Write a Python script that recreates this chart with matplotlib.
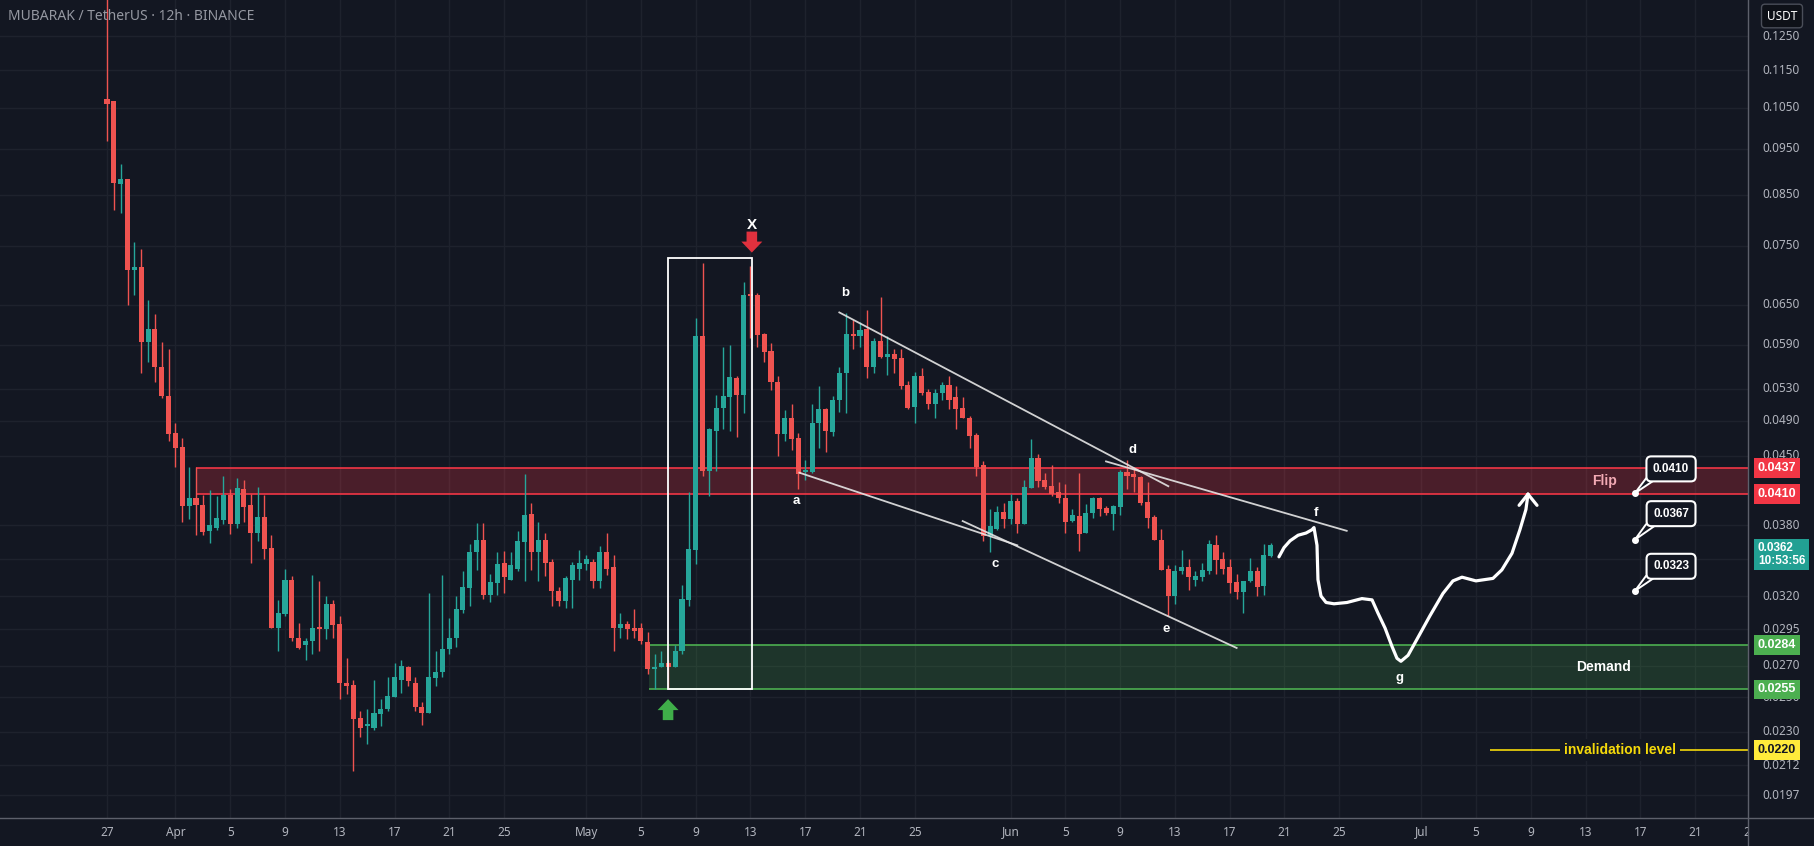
import matplotlib
matplotlib.use("Agg")
import matplotlib.pyplot as plt
import matplotlib.transforms as mtransforms
from matplotlib.patches import Rectangle, Polygon
from matplotlib.lines import Line2D
import numpy as np
import pandas as pd

plt.rcParams["font.family"] = ["Noto Sans", "DejaVu Sans"]
BOLD = ["Liberation Sans", "DejaVu Sans"]

BG = "#131722"
GRID = "#1e222d"
TXT = "#b2b5be"
UP = "#26a69a"
DOWN = "#ef5350"
RED = "#f23645"
GREEN = "#4caf50"
YELLOW = "#ffeb3b"

# 12h candles, first bar 27 Mar 00:00
start = pd.Timestamp("2025-03-27")
opens = [0.1073, 0.1068, 0.0873, 0.0883, 0.0708, 0.0713, 0.0593, 0.0613, 0.0559, 0.0521,
         0.0476, 0.0460, 0.0398, 0.0406, 0.0399, 0.0375, 0.0378, 0.0385, 0.0409, 0.0381,
         0.0415, 0.0399, 0.0373, 0.0388, 0.0360, 0.0296, 0.0306, 0.0333, 0.0289, 0.0284,
         0.0287, 0.0296, 0.0295, 0.0314, 0.0299, 0.0259, 0.0258, 0.0238, 0.0233, 0.0232,
         0.0240, 0.0243, 0.0250, 0.0261, 0.0269, 0.0259, 0.0244, 0.0241, 0.0262, 0.0266,
         0.0281, 0.0289, 0.0309, 0.0326, 0.0356, 0.0367, 0.0321, 0.0330, 0.0347, 0.0333,
         0.0342, 0.0365, 0.0391, 0.0356, 0.0367, 0.0348, 0.0324, 0.0316, 0.0333, 0.0342,
         0.0346, 0.0348, 0.0332, 0.0356, 0.0343, 0.0296, 0.0299, 0.0296, 0.0296, 0.0286,
         0.0268, 0.0269, 0.0272, 0.0269, 0.0280, 0.0317, 0.0358, 0.0602, 0.0434, 0.0478,
         0.0506, 0.0519, 0.0544, 0.0522, 0.0666, 0.0666, 0.0606, 0.0581, 0.0539, 0.0475,
         0.0493, 0.0470, 0.0433, 0.0433, 0.0487, 0.0505, 0.0477, 0.0515, 0.0550, 0.0606,
         0.0603, 0.0613, 0.0559, 0.0595, 0.0573, 0.0577, 0.0571, 0.0535, 0.0507, 0.0547,
         0.0526, 0.0510, 0.0524, 0.0535, 0.0519, 0.0506, 0.0494, 0.0473, 0.0440, 0.0370,
         0.0377, 0.0393, 0.0386, 0.0403, 0.0381, 0.0416, 0.0448, 0.0424, 0.0418, 0.0412,
         0.0406, 0.0384, 0.0389, 0.0373, 0.0392, 0.0406, 0.0396, 0.0391, 0.0397, 0.0433,
         0.0431, 0.0427, 0.0402, 0.0388, 0.0367, 0.0342, 0.0320, 0.0340, 0.0343, 0.0333,
         0.0335, 0.0340, 0.0362, 0.0350, 0.0343, 0.0331, 0.0323, 0.0332, 0.0340, 0.0328,
         0.0353]
highs = [0.1400, 0.1068, 0.0916, 0.0883, 0.0757, 0.0745, 0.0658, 0.0635, 0.0594, 0.0584,
         0.0487, 0.0470, 0.0438, 0.0438, 0.0409, 0.0414, 0.0408, 0.0428, 0.0415, 0.0426,
         0.0424, 0.0410, 0.0417, 0.0409, 0.0371, 0.0317, 0.0342, 0.0336, 0.0300, 0.0289,
         0.0337, 0.0332, 0.0320, 0.0317, 0.0305, 0.0275, 0.0261, 0.0242, 0.0243, 0.0261,
         0.0249, 0.0263, 0.0272, 0.0274, 0.0270, 0.0263, 0.0247, 0.0322, 0.0280, 0.0337,
         0.0303, 0.0320, 0.0340, 0.0363, 0.0382, 0.0382, 0.0338, 0.0356, 0.0357, 0.0356,
         0.0375, 0.0431, 0.0401, 0.0383, 0.0373, 0.0350, 0.0327, 0.0336, 0.0348, 0.0358,
         0.0354, 0.0350, 0.0361, 0.0373, 0.0354, 0.0307, 0.0301, 0.0310, 0.0300, 0.0293,
         0.0278, 0.0280, 0.0274, 0.0284, 0.0329, 0.0412, 0.0629, 0.0720, 0.0482, 0.0522,
         0.0587, 0.0589, 0.0547, 0.0687, 0.0715, 0.0669, 0.0607, 0.0592, 0.0547, 0.0503,
         0.0510, 0.0476, 0.0446, 0.0510, 0.0533, 0.0506, 0.0520, 0.0558, 0.0637, 0.0627,
         0.0624, 0.0642, 0.0600, 0.0663, 0.0602, 0.0584, 0.0584, 0.0540, 0.0552, 0.0557,
         0.0530, 0.0530, 0.0538, 0.0547, 0.0533, 0.0519, 0.0496, 0.0476, 0.0444, 0.0395,
         0.0398, 0.0401, 0.0410, 0.0406, 0.0424, 0.0469, 0.0452, 0.0432, 0.0440, 0.0422,
         0.0420, 0.0395, 0.0432, 0.0400, 0.0407, 0.0407, 0.0398, 0.0399, 0.0435, 0.0445,
         0.0437, 0.0429, 0.0422, 0.0390, 0.0377, 0.0345, 0.0345, 0.0358, 0.0350, 0.0340,
         0.0347, 0.0367, 0.0371, 0.0356, 0.0350, 0.0338, 0.0332, 0.0351, 0.0343, 0.0363,
         0.0364]
lows = [0.0969, 0.0819, 0.0813, 0.0650, 0.0666, 0.0551, 0.0566, 0.0539, 0.0518, 0.0467,
        0.0438, 0.0383, 0.0386, 0.0371, 0.0371, 0.0364, 0.0376, 0.0381, 0.0372, 0.0378,
        0.0383, 0.0347, 0.0366, 0.0350, 0.0296, 0.0280, 0.0305, 0.0287, 0.0281, 0.0274,
        0.0278, 0.0280, 0.0288, 0.0289, 0.0249, 0.0252, 0.0209, 0.0227, 0.0223, 0.0231,
        0.0233, 0.0242, 0.0250, 0.0253, 0.0257, 0.0242, 0.0234, 0.0241, 0.0257, 0.0263,
        0.0278, 0.0283, 0.0307, 0.0312, 0.0341, 0.0318, 0.0315, 0.0321, 0.0322, 0.0333,
        0.0340, 0.0332, 0.0341, 0.0332, 0.0336, 0.0312, 0.0312, 0.0311, 0.0311, 0.0333,
        0.0341, 0.0326, 0.0326, 0.0337, 0.0280, 0.0289, 0.0288, 0.0289, 0.0285, 0.0265,
        0.0255, 0.0269, 0.0255, 0.0269, 0.0278, 0.0312, 0.0346, 0.0428, 0.0408, 0.0434,
        0.0481, 0.0478, 0.0471, 0.0499, 0.0600, 0.0587, 0.0566, 0.0528, 0.0450, 0.0467,
        0.0456, 0.0415, 0.0424, 0.0432, 0.0459, 0.0454, 0.0472, 0.0501, 0.0500, 0.0584,
        0.0587, 0.0544, 0.0551, 0.0571, 0.0548, 0.0550, 0.0529, 0.0505, 0.0488, 0.0522,
        0.0505, 0.0494, 0.0516, 0.0505, 0.0481, 0.0493, 0.0459, 0.0428, 0.0366, 0.0356,
        0.0376, 0.0378, 0.0381, 0.0373, 0.0381, 0.0416, 0.0417, 0.0415, 0.0408, 0.0401,
        0.0373, 0.0383, 0.0357, 0.0373, 0.0387, 0.0389, 0.0390, 0.0376, 0.0390, 0.0415,
        0.0412, 0.0399, 0.0378, 0.0367, 0.0341, 0.0305, 0.0314, 0.0338, 0.0325, 0.0328,
        0.0332, 0.0338, 0.0338, 0.0338, 0.0322, 0.0318, 0.0307, 0.0331, 0.0320, 0.0321,
        0.0352]
closes = [0.1060, 0.0875, 0.0883, 0.0708, 0.0713, 0.0593, 0.0613, 0.0559, 0.0520, 0.0475,
          0.0459, 0.0398, 0.0406, 0.0399, 0.0374, 0.0380, 0.0387, 0.0409, 0.0381, 0.0416,
          0.0397, 0.0373, 0.0388, 0.0359, 0.0296, 0.0307, 0.0333, 0.0289, 0.0282, 0.0287,
          0.0296, 0.0295, 0.0314, 0.0298, 0.0259, 0.0257, 0.0237, 0.0232, 0.0234, 0.0241,
          0.0243, 0.0251, 0.0263, 0.0270, 0.0260, 0.0244, 0.0241, 0.0263, 0.0266, 0.0281,
          0.0289, 0.0310, 0.0327, 0.0356, 0.0367, 0.0321, 0.0331, 0.0346, 0.0335, 0.0345,
          0.0366, 0.0390, 0.0356, 0.0367, 0.0347, 0.0324, 0.0316, 0.0334, 0.0345, 0.0347,
          0.0350, 0.0332, 0.0356, 0.0342, 0.0296, 0.0299, 0.0295, 0.0294, 0.0287, 0.0268,
          0.0269, 0.0272, 0.0269, 0.0280, 0.0318, 0.0359, 0.0602, 0.0434, 0.0481, 0.0506,
          0.0521, 0.0545, 0.0522, 0.0666, 0.0664, 0.0604, 0.0580, 0.0538, 0.0475, 0.0493,
          0.0469, 0.0431, 0.0434, 0.0488, 0.0505, 0.0478, 0.0516, 0.0551, 0.0606, 0.0603,
          0.0612, 0.0559, 0.0595, 0.0573, 0.0577, 0.0569, 0.0534, 0.0506, 0.0547, 0.0524,
          0.0510, 0.0524, 0.0535, 0.0516, 0.0505, 0.0494, 0.0472, 0.0438, 0.0370, 0.0379,
          0.0393, 0.0386, 0.0403, 0.0381, 0.0417, 0.0448, 0.0423, 0.0417, 0.0410, 0.0406,
          0.0383, 0.0390, 0.0372, 0.0392, 0.0406, 0.0395, 0.0392, 0.0398, 0.0433, 0.0429,
          0.0427, 0.0401, 0.0387, 0.0367, 0.0341, 0.0320, 0.0340, 0.0343, 0.0335, 0.0336,
          0.0341, 0.0363, 0.0349, 0.0342, 0.0330, 0.0323, 0.0332, 0.0340, 0.0327, 0.0354,
          0.0362]

# axis ticks (0.0350 only has a grid line, its label sits under the last-price tag)
price_ticks = [0.1250, 0.1150, 0.1050, 0.0950, 0.0850, 0.0750, 0.0650, 0.0590, 0.0530,
               0.0490, 0.0450, 0.0380, 0.0350, 0.0320, 0.0295, 0.0270, 0.0250, 0.0230,
               0.0212, 0.0197]
unlabelled_ticks = [0.0350]
tick_dates = ["2025-03-27", "2025-04-01", "2025-04-05", "2025-04-09", "2025-04-13",
              "2025-04-17", "2025-04-21", "2025-04-25", "2025-05-01", "2025-05-05",
              "2025-05-09", "2025-05-13", "2025-05-17", "2025-05-21", "2025-05-25",
              "2025-06-01", "2025-06-05", "2025-06-09", "2025-06-13", "2025-06-17",
              "2025-06-21", "2025-06-25", "2025-07-01", "2025-07-05", "2025-07-09",
              "2025-07-13", "2025-07-17", "2025-07-21", "2025-07-25"]
tick_labels = ["27", "Apr", "5", "9", "13", "17", "21", "25", "May", "5", "9", "13", "17",
               "21", "25", "Jun", "5", "9", "13", "17", "21", "25", "Jul", "5", "9", "13",
               "17", "21", "25"]

# zones and levels
flip_zone = (0.0410, 0.0437)
flip_start = 6.5
demand_zone = (0.0255, 0.0284)
demand_start = 39.6
invalidation = 0.0220
invalidation_start = 101.0
box_days = (41.0, 47.1)
box_prices = (0.0255, 0.0729)

# wave labels (day offset, price)
wave_labels = ["a", "b", "c", "d", "e", "f", "g"]
wave_days = [50.33, 53.9, 64.86, 74.94, 77.35, 88.31, 94.37]
wave_prices = [0.0403, 0.0669, 0.0346, 0.0457, 0.0295, 0.0392, 0.0262]

# trend lines: (day0, price0, day1, price1)
trend_lines = [(53.49, 0.0638, 77.52, 0.0418),
               (72.97, 0.0444, 90.55, 0.0375),
               (50.57, 0.0432, 66.49, 0.0362),
               (62.50, 0.0384, 82.51, 0.0282)]

# hand-drawn projection path
proj_days = [85.60, 85.97, 86.41, 87.00, 87.58, 88.01, 88.16, 88.38, 88.45, 88.67, 89.04,
             89.62, 90.57, 91.66, 92.40, 92.83, 93.35, 93.86, 94.22, 94.51, 95.03, 95.68,
             96.63, 97.58, 98.31, 98.97, 99.99, 101.23, 101.88, 102.62, 103.20, 103.64, 103.79]
proj_prices = [0.0352, 0.0360, 0.0366, 0.0371, 0.0373, 0.0376, 0.0378, 0.0362, 0.0333, 0.0320,
               0.0315, 0.0314, 0.0315, 0.0318, 0.0317, 0.0307, 0.0296, 0.0283, 0.0275, 0.0273,
               0.0277, 0.0288, 0.0305, 0.0322, 0.0332, 0.0335, 0.0332, 0.0334, 0.0341, 0.0355,
               0.0376, 0.0395, 0.0410]
proj_head_days = [103.14, 104.45]
proj_head_price = 0.0399

# target callouts
callout_texts = ["0.0410", "0.0367", "0.0323"]
callout_dot_day = 111.6
callout_dot_prices = [0.0411, 0.0367, 0.0324]
callout_box_day = 114.24
callout_box_prices = [0.0436, 0.0391, 0.0344]
callout_bottom_prices = [0.0426, 0.0381, 0.0336]
callout_tail_days = (112.41, 113.21)

# right axis tags: price, text, background, text colour
axis_tags = [(0.0437, "0.0437", RED, "white"),
             (0.0410, "0.0410", RED, "white"),
             (0.0284, "0.0284", GREEN, "white"),
             (0.0255, "0.0255", GREEN, "white"),
             (0.0220, "0.0220", YELLOW, "#131722")]
last_price = 0.0362
countdown = "10:53:56"

W, H = 1815, 846
fig = plt.figure(figsize=(W / 100, H / 100), dpi=100, facecolor=BG)
ax = fig.add_axes([0, 28 / H, 1748 / W, 818 / H])
ax.set_facecolor(BG)
ax.set_yscale("log")
ax.set_xlim(-7.815, 119.86)
ax.set_ylim(0.018645, 0.13645)
ax.set_axis_off()

tick_days = [(pd.Timestamp(d) - start) / pd.Timedelta(days=1) for d in tick_dates]

for p in price_ticks:
    ax.axhline(p, color=GRID, lw=1, zorder=0)
for d in tick_days:
    ax.axvline(d, color=GRID, lw=1, zorder=0)

# zones
ax.add_patch(Rectangle((flip_start, flip_zone[0]), 200, flip_zone[1] - flip_zone[0],
                       fc=RED, alpha=0.25, ec="none", zorder=1))
ax.hlines(flip_zone, flip_start, 200, color=RED, lw=1.2, zorder=2)
ax.add_patch(Rectangle((demand_start, demand_zone[0]), 200, demand_zone[1] - demand_zone[0],
                       fc=GREEN, alpha=0.2, ec="none", zorder=1))
ax.hlines(demand_zone, demand_start, 200, color=GREEN, lw=1.2, zorder=2)
ax.add_patch(Rectangle((box_days[0], box_prices[0]), box_days[1] - box_days[0],
                       box_prices[1] - box_prices[0], fill=False, ec="white", lw=1.3, zorder=5))

# candles
o, h, l, c = map(np.array, (opens, highs, lows, closes))
x = np.arange(len(o)) * 0.5
cols = np.where(c >= o, UP, DOWN)
ax.vlines(x, l, h, colors=cols, lw=1, zorder=3)
bot = np.minimum(o, c)
top = np.maximum(np.maximum(o, c), bot * 1.005)
ax.bar(x, top - bot, bottom=bot, width=0.37, color=cols, lw=0, zorder=4)

# trend lines
for d0, p0, d1, p1 in trend_lines:
    ax.plot([d0, d1], [p0, p1], color="#e6e6e6", lw=1.3, alpha=0.9, zorder=6)

# projection
ax.plot(proj_days, proj_prices, color="white", lw=2.3, solid_capstyle="round",
        solid_joinstyle="round", zorder=7)
for hd in proj_head_days:
    ax.plot([hd, proj_days[-1]], [proj_head_price, proj_prices[-1]], color="white", lw=2.3,
            solid_capstyle="round", zorder=7)

for lab, d, p in zip(wave_labels, wave_days, wave_prices):
    ax.text(d, p, lab, color="white", fontsize=9.5, fontweight="bold", family=BOLD,
            ha="center", va="center", zorder=8)


def block_arrow(day, price, color, down=True):
    tx, ty = ax.transData.transform((day, price))
    s = 1 if down else -1
    shape = [(0, 0), (-10.5, 11), (-5.3, 11), (-5.3, 21), (5.3, 21), (5.3, 11), (10.5, 11)]
    verts = [(tx + a, ty + s * b) for a, b in shape]
    ax.add_patch(Polygon(verts, closed=True, fc=color, ec="none", zorder=9,
                         transform=mtransforms.IdentityTransform()))


block_arrow(47.1, 0.0738, "#e0313e", down=True)
ax.text(47.1, 0.0789, "X", color="white", fontsize=11, fontweight="bold", family=BOLD,
        ha="center", va="center", zorder=9)
block_arrow(40.98, 0.0249, "#3fae49", down=False)

# zone texts
ax.text(109.4, np.sqrt(flip_zone[0] * flip_zone[1]), "Flip", color="#f2aab4", fontsize=10,
        fontweight="bold", family=BOLD, ha="center", va="center", zorder=8)
ax.text(109.3, np.sqrt(demand_zone[0] * demand_zone[1]), "Demand", color="white",
        fontsize=10, fontweight="bold", family=BOLD, ha="center", va="center", zorder=8)
ax.hlines(invalidation, invalidation_start, 200, color="#f5d90a", lw=1.2, zorder=2)
ax.text(110.5, invalidation, "invalidation level", color="#f5d90a", fontsize=10,
        fontweight="bold", family=BOLD, ha="center", va="center", zorder=8,
        bbox=dict(boxstyle="square,pad=0.3", fc=BG, ec="none"))

# callouts
for txt, dp, bp, btm in zip(callout_texts, callout_dot_prices, callout_box_prices,
                            callout_bottom_prices):
    ax.add_patch(Polygon([(callout_dot_day, dp), (callout_tail_days[0], btm),
                          (callout_tail_days[1], btm)], closed=True, fc=BG, ec="white",
                         lw=1.4, zorder=8))
    ax.plot(callout_dot_day, dp, "o", color="white", ms=4, zorder=9)
    ax.text(callout_box_day, bp, txt, color="white", fontsize=8.5, fontweight="bold",
            family=BOLD, ha="center", va="center", zorder=10,
            bbox=dict(boxstyle="round,pad=0.55,rounding_size=0.4", fc=BG, ec="white", lw=1.5))

# right price axis
ytr = mtransforms.blended_transform_factory(ax.transAxes, ax.transData)
for p in price_ticks:
    if p in unlabelled_ticks:
        continue
    ax.text(1762 / 1748, p, f"{p:.4f}", transform=ytr, ha="left", va="center",
            color=TXT, fontsize=8.5, zorder=1)
for p, txt, fc, tc in axis_tags:
    ax.text(1758 / 1748, p, txt, transform=ytr, ha="left", va="center", color=tc,
            fontsize=9, fontweight="bold", family=BOLD, zorder=11,
            bbox=dict(boxstyle="square,pad=0.3", fc=fc, ec="none"))
ax.text(1758 / 1748, last_price * 0.978, f"{last_price:.4f}\n{countdown}", transform=ytr,
        ha="left", va="center", color="white", fontsize=8.5, fontweight="bold", family=BOLD,
        linespacing=1.05, zorder=11, bbox=dict(boxstyle="square,pad=0.3", fc="#22a093", ec="none"))

# bottom date axis
xtr = mtransforms.blended_transform_factory(ax.transData, ax.transAxes)
clip = mtransforms.Bbox([[0, 0], [1748, H]])
for d, lab in zip(tick_days, tick_labels):
    t = ax.text(d, -14 / 818, lab, transform=xtr, ha="center", va="center", color=TXT,
                fontsize=8.5)
    t.set_clip_box(clip)
    t.set_clip_on(True)

# panel separators
fig.add_artist(Line2D([0, 1], [28 / H, 28 / H], color="#5d606b", lw=1))
fig.add_artist(Line2D([1748.5 / W, 1748.5 / W], [0, 1], color="#5d606b", lw=1))

fig.text(8 / W, 1 - 16 / H, "MUBARAK / TetherUS · 12h · BINANCE", color="#9598a1",
         fontsize=10, fontweight="semibold", ha="left", va="center")
fig.text(1782 / W, 1 - 16 / H, "USDT", color="white", fontsize=8.5, fontweight="semibold",
         ha="center", va="center",
         bbox=dict(boxstyle="round,pad=0.45,rounding_size=0.3", fc="#0e1118", ec="#4a4e59", lw=1))

fig.savefig("out.png", dpi=100, facecolor=BG)
